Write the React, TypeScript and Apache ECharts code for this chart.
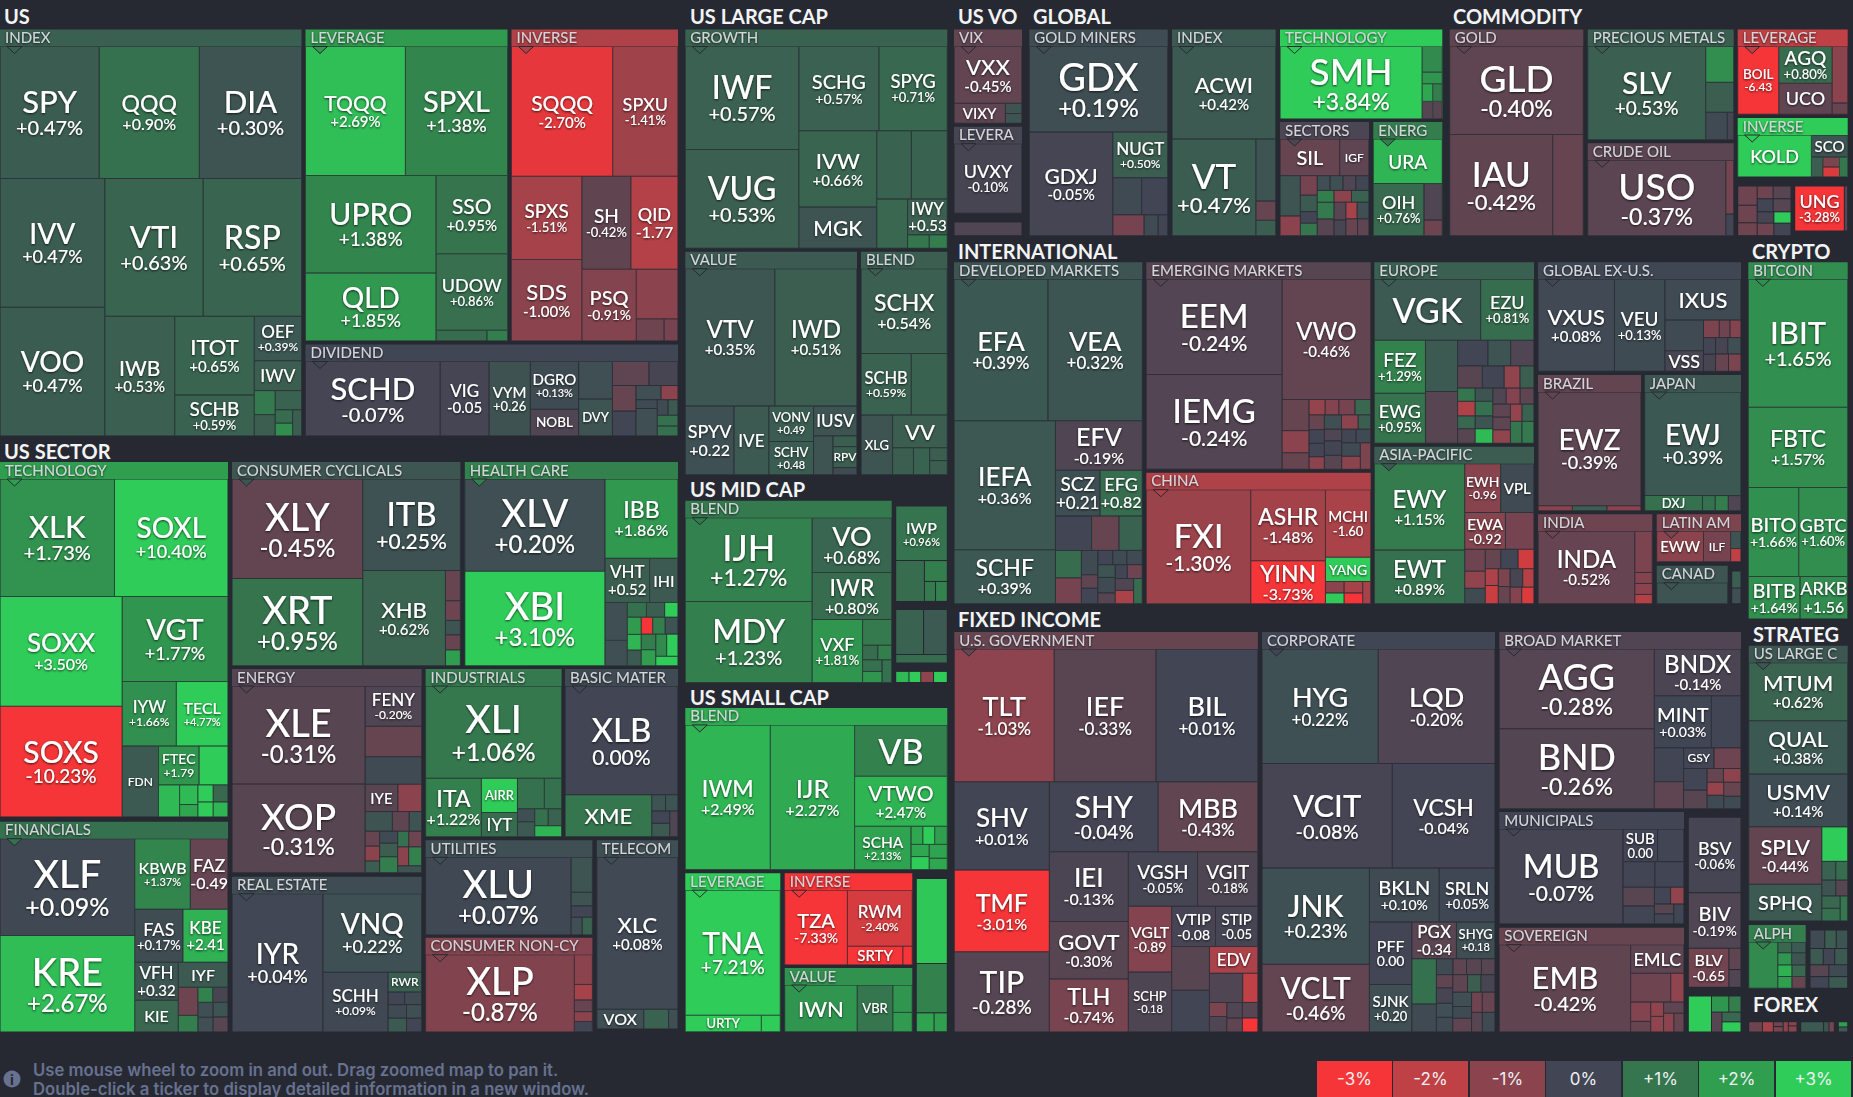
import React, { useEffect, useRef } from "react";
import * as echarts from "echarts";

type Cell = [string, number, string | number];
const BG = "#262931";
const FONT = "Lato";

// ----- weights are the cell areas; a string is a printed change, a number is a colour-only estimate
const usIndex: Cell[] = [["SPY",12870,"+0.47%"],["QQQ",13000,"+0.90%"],["DIA",13260,"+0.30%"],["IVV",13270,"+0.47%"],["VOO",13270,"+0.47%"],["VTI",13330,"+0.63%"],["RSP",13330,"+0.65%"],["IWB",8230,"+0.53%"],["ITOT",6160,"+0.65%"],["SCHB",3200,"+0.59%"],["OEF",2060,"+0.39%"],["IWV",1390,0.5],["",495,1.1],["",440,0.5],["",495,0.6],["",230,0.8],["",220,1.6],["",230,0.5]];
const usLeverage: Cell[] = [["TQQQ",12636,"+2.69%"],["SPXL",12915,"+1.38%"],["UPRO",12460,"+1.38%"],["QLD",8710,"+1.85%"],["SSO",5470,"+0.95%"],["UDOW",5370,"+0.86%"],["",535,0.8],["",216,1.2]];
const usInverse: Cell[] = [["SQQQ",12800,"-2.70%"],["SPXU",8255,"-1.41%"],["SPXS",5706,"-1.51%"],["SDS",5590,"-1.00%"],["SH",4440,"-0.42%"],["QID",4270,"-1.77"],["PSQ",3800,"-0.91%"],["",2016,-1],["",600,-0.6],["",300,-0.7]];
const usDividend: Cell[] = [["SCHD",9580,"-0.07%"],["VIG",3480,"-0.05"],["VYM",2930,"+0.26"],["DGRO",2208,"+0.13%"],["NOBL",1233,-0.2],["",1206,0.2],["DVY",1195,0.3],["",837,-0.4],["",666,-0.1],["",574,-0.5],["",560,0],["",340,0.2],["",230,-1],["",180,0.1],["",560,0.2],["",160,0.1],["",148,0.4],["",213,0.9],["",198,0.9]];
const secTech: Cell[] = [["XLK",13110,"+1.73%"],["SOXL",13000,"+10.40%"],["SOXX",13080,"+3.50%"],["SOXS",13200,"-10.23%"],["VGT",8780,"+1.77%"],["IYW",3400,"+1.66%"],["TECL",3245,"+4.77%"],["FDN",2520,0.4],["FTEC",1540,"+1.79"],["",1100,3],["",660,2.6],["",350,2.6],["",222,2.2],["",255,3],["",247,0.7],["",225,3],["",218,2.5]];
const secCyclical: Cell[] = [["XLY",12720,"-0.45%"],["XRT",11130,"+0.95%"],["ITB",8725,"+0.25%"],["XHB",7695,"+0.62%"],["",442,-0.5],["",288,-0.6],["",211,0.3],["",220,-0.5],["",231,2]];
const secHealth: Cell[] = [["XLV",12467,"+0.20%"],["XBI",12741,"+3.10%"],["IBB",5572,"+1.86%"],["VHT",1903,"+0.52"],["IHI",1210,0.4],["",819,0.2],["",546,0.2],["",272,0.9],["",259,0.5],["",190,3],["",231,1.9],["",209,2.5],["",209,0.4],["",187,-5],["",204,1.2],["",210,0.3],["",218,1.2],["",224,2],["",233,1.5],["",242,3],["",202,3]];
const secEnergy: Cell[] = [["XLE",12510,"-0.31%"],["XOP",11310,"-0.31%"],["FENY",2183,"-0.20%"],["",1650,-0.5],["",1482,0.1],["IYE",860,-0.3],["",622,-1],["",513,0.3],["",317,-0.4],["",234,0.3],["",207,-0.5],["",207,-1],["",163,0.5],["",207,0.1],["",235,0.5],["",276,1.2],["",166,0.9],["",193,-0.6],["",199,-1],["",234,1.3],["",160,0.3]];
const secIndustrial: Cell[] = [["XLI",12145,"+1.06%"],["ITA",3154,"+1.22%"],["AIRR",1194,3],["IYT",846,0.8],["",792,0.9],["",510,0.9],["",217,0.2],["",250,0.4],["",221,0.9],["",221,0.6],["",286,2.5]];
const secBasic: Cell[] = [["XLB",11978,"0.00%"],["XME",3549,1],["",218,0.3],["",197,0.3],["",216,0],["",234,0.4],["",208,-0.2]];
const secFinancial: Cell[] = [["XLF",12672,"+0.09%"],["KRE",12632,"+2.67%"],["KBWB",3808,"+1.37%"],["FAZ",2584,"-0.49"],["FAS",2483,"+0.17%"],["KBE",2324,"+2.41"],["VFH",1607,"+0.32"],["KIE",1341,0.7],["IYF",1207,0.4],["",534,-0.6],["",316,1.2],["",216,1.3],["",224,-0.1],["",220,0.2],["",218,0.2],["",212,0.3],["",218,-0.3]];
const secRealEstate: Cell[] = [["IYR",12300,"+0.04%"],["VNQ",7594,"+0.22%"],["SCHH",3800,"+0.09%"],["RWR",645,0.5],["",205,0],["",210,0.1],["",245,0.1],["",251,0.4],["",200,0.2],["",205,0]];
const secUtilities: Cell[] = [["XLU",11110,"+0.07%"],["",733,0.3],["",284,0.3],["",238,0],["",194,0.2],["",179,0.6]];
const secStaples: Cell[] = [["XLP",11330,"-0.87%"],["",530,-1],["",277,-1.5],["",208,-0.5],["",175,-1],["",188,0]];
const secTelecom: Cell[] = [["XLC",12180,"+0.08%"],["VOX",916,0.2],["",484,0.6],["",184,0.2]];
const largeGrowth: Cell[] = [["IWF",11360,"+0.57%"],["VUG",10913,"+0.53%"],["SCHG",6560,"+0.57%"],["SPYG",5600,"+0.71%"],["IVW",5775,"+0.66%"],["MGK",3120,0.3],["",2288,0.6],["",2381,0.6],["",1479,0.7],["IWY",1388,"+0.53"],["",284,1],["",237,1.2]];
const largeValue: Cell[] = [["VTV",11988,"+0.35%"],["IWD",11005,"+0.51%"],["SPYV",3257,"+0.22"],["IVE",2335,0.4],["VONV",1540,"+0.49"],["SCHV",1452,"+0.48"],["IUSV",1263,0.3],["",736,0.3],["",253,0.5],["RPV",490,0.5],["",168,0.1]];
const largeBlend: Cell[] = [["SCHX",7103,"+0.54%"],["SCHB",2997,"+0.59%"],["",2153,0.6],["XLG",1827,0.3],["VV",1734,0.5],["",546,0.5],["",424,0.6],["",220,0.5],["",242,0.5]];
const midBlend: Cell[] = [["IJH",10288,"+1.27%"],["MDY",9926,"+1.23%"],["VO",4216,"+0.68%"],["IWR",3614,"+0.80%"],["VXF",3078,"+1.81%"],["",727,1.1],["",214,0.8],["",196,1.2],["",220,0.9],["",208,1.8],["",213,0.9]];
const midOtherA: Cell[] = [["IWP",2714,"+0.96%"],["",1130,0.8],["",460,1.2],["",214,1.1],["",226,1.3]];
const midOtherB: Cell[] = [["",1209,0.6],["",1032,0.4],["",424,0.8]];
const midOtherC: Cell[] = [["",135,2.6],["",120,3],["",130,-1.1],["",140,3]];
const smallBlend: Cell[] = [["IWM",11870,"+2.49%"],["IJR",11770,"+2.27%"],["VB",4590,1.3],["VTWO",4488,"+2.47%"],["SCHA",2354,"+2.13%"],["",206,2.2],["",206,3],["",220,2],["",214,2.2],["",229,3],["",242,2.1],["",198,2.2]];
const smallLeverage: Cell[] = [["TNA",11590,"+7.21%"],["URTY",1230,4],["",307,3]];
const smallInverse: Cell[] = [["TZA",4444,"-7.33%"],["RWM",3438,"-2.40%"],["SRTY",988,-6],["",169,-4]];
const smallValue: Cell[] = [["IWN",3217,1.8],["VBR",1579,1],["",506,1.8],["",358,1.9]];
const smallOther: Cell[] = [["",2570,2.9],["",1494,1.3],["",328,2.1],["",245,2]];
const volVix: Cell[] = [["VXX",3740,"-0.45%"],["VIXY",1000,-0.4],["",165,0.3],["",158,0.3]];
const volLeverage: Cell[] = [["UVXY",4624,"-0.10%"]];
const volOther: Cell[] = [["",900,-0.2]];
const globalMiners: Cell[] = [["GDX",11525,"+0.19%"],["GDXJ",8460,"-0.05%"],["NUGT",2450,"+0.50%"],["",1042,0.1],["",944,0],["",636,-0.7],["",288,0.1],["",195,0]];
const globalIndex: Cell[] = [["ACWI",9437,"+0.42%"],["VT",7964,"+0.47%"],["",1206,0.3],["",374,-0.5],["",300,0.5]];
const globalTech: Cell[] = [["SMH",10058,"+3.84%"],["",505,1.5],["",228,1.8],["",182,2.2],["",165,1.2],["",182,-0.3],["",165,-0.3]];
const globalSectors: Cell[] = [["SIL",1988,-0.5],["IGF",977,-0.4],["",746,0.3],["",365,-1],["",299,-0.7],["",252,0.4],["",178,0],["",192,1],["",172,0.2],["",173,0.2],["",173,-0.2],["",177,0],["",180,1.2],["",255,1.1],["",255,-0.3],["",187,-1],["",187,0.6],["",192,-0.3],["",170,-0.1],["",170,-1.5],["",180,0.2],["",180,-0.5],["",176,-0.4]];
const globalEnergy: Cell[] = [["URA",2946,2.5],["OIH",2529,"+0.76%"],["",640,-0.2],["",275,-0.6]];
const commGold: Cell[] = [["GLD",11592,"-0.40%"],["IAU",10270,"-0.42%"],["",3051,-0.5]];
const commPrecious: Cell[] = [["SLV",10788,"+0.53%"],["",984,1.6],["",823,0.5],["",582,0.1],["",172,-0.1]];
const commCrude: Cell[] = [["USO",10275,"-0.37%"],["",416,-0.7],["",168,0]];
const commLeverage: Cell[] = [["BOIL",2672,"-6.43"],["AGQ",1881,"+0.80%"],["UCO",1597,-0.4],["",842,-1],["",168,-0.5]];
const commInverse: Cell[] = [["KOLD",2911,3.5],["SCO",754,0.3],["",214,0.5],["",156,-0.8],["",156,-2.5],["",154,1]];
const commOtherA: Cell[] = [["",335,-0.6],["",306,-0.6],["",225,-0.6],["",182,-0.6],["",204,-0.3],["",187,0],["",209,-0.3],["",168,-0.1],["",188,-0.6],["",173,3],["",193,0]];
const commOtherB: Cell[] = [["UNG",2192,"-3.28%"],["",150,-0.3]];
const intlDeveloped: Cell[] = [["EFA",12847,"+0.39%"],["VEA",12902,"+0.32%"],["IEFA",12642,"+0.36%"],["SCHF",5292,"+0.39%"],["EFV",4156,"-0.19%"],["SCZ",1965,"+0.21"],["EFG",1866,"+0.82"],["",1200,0],["",910,-0.5],["",777,0.6],["",688,0.8],["",648,-0.7],["",387,0.1],["",214,-0.4],["",246,0],["",206,0],["",194,0.1],["",214,0.1],["",214,0.3],["",260,0.1],["",181,-0.3],["",162,0],["",200,-0.6],["",212,-0.2],["",237,-1.6],["",212,0.8]];
const intlEmerging: Cell[] = [["EEM",12474,"-0.24%"],["IEMG",12434,"-0.24%"],["VWO",10276,"-0.46%"],["",810,-0.5],["",574,-1],["",430,-0.5],["",240,-1.2],["",204,-0.9],["",240,-0.7],["",234,0.7],["",219,-0.5],["",204,0],["",199,0],["",186,-1],["",237,0.2],["",229,-1],["",174,0.5],["",196,-0.2],["",242,0],["",234,-0.3],["",190,0],["",192,0.1],["",242,0.1],["",234,-1],["",266,-0.8]];
const intlChina: Cell[] = [["FXI",11514,"-1.30%"],["ASHR",5128,"-1.48%"],["YINN",3108,"-3.73%"],["MCHI",2950,"-1.60"],["YANG",1067,3],["",206,-1],["",193,3],["",206,-1.5],["",193,-3],["",172,-1.5]];
const intlEurope: Cell[] = [["VGK",6099,0.4],["EZU",3058,"+0.81%"],["FEZ",2560,"+1.29%"],["EWG",2415,"+0.95%"],["",1554,0.4],["",1566,-0.3],["",736,0],["",552,0.3],["",566,-0.2],["",519,-0.3],["",456,0],["",330,-1.1],["",294,0.5],["",220,1],["",242,-1.7],["",213,0.7],["",242,-0.3],["",220,0.3],["",242,0.9],["",213,0.3],["",242,2.6],["",203,-0.2],["",210,-0.9],["",210,-0.4],["",216,-0.4],["",213,-0.4],["",224,-1.1],["",187,-1.2],["",197,0.6],["",237,1],["",250,1.1]];
const intlAsia: Cell[] = [["EWY",7394,"+1.15%"],["EWT",4600,"+0.89%"],["EWH",1659,"-0.96"],["VPL",1540,0.1],["EWA",1423,"-0.92"],["",996,-0.7],["",426,-0.6],["",334,-1.1],["",300,0.1],["",286,-0.5],["",318,0],["",294,-2.3],["",206,-1.7],["",224,-2.2],["",200,-0.8],["",192,-0.5],["",220,-0.1],["",197,-1.8],["",183,-0.9],["",193,-2.5]];
const intlExUs: Cell[] = [["VXUS",6780,"+0.08%"],["VEU",4480,"+0.13%"],["IXUS",2987,0.1],["",1142,0.1],["VSS",765,-0.1],["",267,-0.8],["",182,-0.6],["",187,-0.9],["",193,0],["",199,-0.1],["",193,-0.1],["",209,0.2],["",216,-0.5],["",209,-0.8]];
const intlBrazil: Cell[] = [["EWZ",11608,"-0.39%"],["",168,-1],["",170,0.5],["",167,-1]];
const intlJapan: Cell[] = [["EWJ",9794,"+0.39%"],["DXJ",857,0.9],["",189,0.9],["",194,1.2],["",189,-0.2]];
const intlIndia: Cell[] = [["INDA",6783,"-0.52%"],["",697,-0.8],["",186,-0.9],["",186,-1],["",157,-1.8]];
const intlLatam: Cell[] = [["EWW",1332,-1],["ILF",773,-0.7],["",168,0.3],["",128,-2]];
const intlCanada: Cell[] = [["",1470,0.3]];
const intlOther: Cell[] = [["",163,0.5],["",150,0.2]];
const cryptoBitcoin: Cell[] = [["IBIT",12443,"+1.65%"],["FBTC",7815,"+1.57%"],["BITO",4389,"+1.66%"],["GBTC",4265,"+1.60%"],["BITB",2157,"+1.64%"],["ARKB",1988,"+1.56"]];
const fiGov: Cell[] = [["TLT",12840,"-1.03%"],["IEF",13100,"-0.33%"],["BIL",13100,"+0.01%"],["SHV",8136,"+0.01%"],["TMF",7521,"-3.01%"],["TIP",7391,"-0.28%"],["SHY",7385,"-0.04%"],["MBB",6773,"-0.43%"],["IEI",5336,"-0.13%"],["GOVT",4389,"-0.30%"],["TLH",4058,"-0.74%"],["VGSH",3652,"-0.05%"],["VGIT",3183,"-0.18%"],["VGLT",2759,"-0.89"],["SCHP",2521,"-0.18"],["VTIP",1716,"-0.08"],["STIP",1658,"-0.05"],["",1602,-0.3],["",1529,0],["EDV",1250,-1.6],["",941,-0.2],["",431,-2],["",236,-0.8],["",260,-0.2],["",236,-0.2],["",211,-0.4],["",233,-0.3],["",211,-3]];
const fiCorp: Cell[] = [["HYG",12890,"+0.22%"],["LQD",12957,"-0.20%"],["VCIT",13189,"-0.08%"],["VCSH",10404,"-0.04%"],["JNK",10015,"+0.23%"],["VCLT",7041,"-0.46%"],["BKLN",3640,"+0.10%"],["SRLN",2916,"+0.05%"],["PFF",2576,"0.00"],["SJNK",1954,"+0.20"],["PGX",1589,"-0.34"],["SHYG",1376,"+0.18"],["",1074,0.9],["",666,0.1],["",256,0.1],["",209,-0.4],["",231,-0.3],["",209,-0.3],["",209,-0.4],["",245,-0.1],["",222,0.2],["",234,0.1],["",250,-0.4],["",227,0.5],["",239,-0.1],["",261,0.2],["",214,0.1],["",250,-0.4],["",210,-0.6],["",249,-0.5],["",206,-0.3],["",241,0.1]];
const fiBroad: Cell[] = [["AGG",11902,"-0.28%"],["BND",11962,"-0.26%"],["BNDX",3903,"-0.14%"],["MINT",2868,"+0.03%"],["",1491,0],["",954,0],["",764,-0.4],["GSY",605,0],["",538,-0.6],["",490,0],["",421,-0.3],["",216,-0.5],["",233,-1],["",209,-1.2],["",216,0.1],["",233,-0.5],["",209,0.1]];
const fiMuni: Cell[] = [["MUB",11280,"-0.07%"],["SUB",1084,"0.00"],["",829,0],["",783,0],["",716,0],["",567,-0.3],["",545,0],["",260,0],["",217,-1.1],["",183,-0.3],["",188,0],["",198,0]];
const fiSovereign: Cell[] = [["EMB",11075,"-0.42%"],["EMLC",1473,-0.4],["",1115,-0.6],["",370,-1.1],["",374,-0.9],["",206,-0.5],["",178,-1.1],["",194,-1.1],["",220,-0.4],["",186,-1],["",185,-0.5]];
const fiOtherA: Cell[] = [["BSV",3863,"-0.06%"],["BIV",2830,"-0.19%"],["BLV",1544,"-0.65"],["",252,-0.4],["",208,-0.2]];
const fiOtherB: Cell[] = [["",767,3],["",255,1.8],["",180,1.2],["",191,-0.3],["",171,0.7],["",177,3]];
const stratLarge: Cell[] = [["MTUM",5544,"+0.62%"],["QUAL",5118,"+0.38%"],["USMV",5049,"+0.14%"],["SPLV",4050,"-0.44%"],["SPHQ",2600,0.4],["",864,3],["",252,0.6],["",216,0.8],["",214,0.3],["",184,-0.3],["",220,0.7],["",225,0.9],["",183,1]];
const stratAlpha: Cell[] = [["",1242,1.5],["",137,0.7],["",140,0.4],["",155,1.8],["",158,0.3],["",151,2.4],["",154,2],["",147,0.7],["",150,-0.5]];
const stratOther: Cell[] = [["",240,0.1],["",186,0.5],["",186,0.3],["",188,0.4],["",164,0],["",184,0.4],["",196,-0.3],["",193,0],["",196,0.1],["",193,0.4]];
const forexA: Cell[] = [["",120,-0.6],["",96,-1.5],["",41,-0.6],["",45,-0.8],["",45,-1],["",31,-1],["",45,-1]];
const forexB: Cell[] = [["",223,0.4],["",52,0.3],["",52,-0.7]];
const forexC: Cell[] = [["",50,2],["",48,0.4]];

const legendValues = [-3, -2, -1, 0, 1, 2, 3];
const legendLabels = ["-3%", "-2%", "-1%", "0%", "+1%", "+2%", "+3%"];
const footerLines = ["Use mouse wheel to zoom in and out. Drag zoomed map to pan it.", "Double-click a ticker to display detailed information in a new window."];

// ----- layout and style tables
const sectionTitles: [string, number, number][] = [["US",4,16],["US LARGE CAP",690,16],["US VO",958,16],["GLOBAL",1033,16],["COMMODITY",1453,16],["US SECTOR",4,451],["INTERNATIONAL",958,251],["CRYPTO",1752,251],["US MID CAP",690,489],["US SMALL CAP",690,697],["FIXED INCOME",958,619],["STRATEG",1753,634],["FOREX",1753,1004]];

type Group = { title: string; cells: Cell[]; box: [number, number, number, number]; tone?: number; fonts?: number[] };
const groups: Group[] = [
  { title:"INDEX", cells:usIndex, box:[0,29.5,301.5,436], tone:0.55, fonts:[31,23,31,28,28,31,32,21,22,19,17,17.5] },
  { title:"LEVERAGE", cells:usLeverage, box:[305.5,29.5,507.5,341], tone:1.9, fonts:[21,29,30,28,21,18] },
  { title:"INVERSE", cells:usInverse, box:[511.5,29.5,678,341], tone:-1.7, fonts:[21,18,19,22,19,18,20] },
  { title:"DIVIDEND", cells:usDividend, box:[305.5,344.5,678,436], tone:0.03, fonts:[31,17,15,15,13.5,13] },
  { title:"TECHNOLOGY", cells:secTech, box:[0,462,228,817], tone:2, fonts:[31,28,26,30,29,17,16,12,14] },
  { title:"CONSUMER CYCLICALS", cells:secCyclical, box:[232,462,460.4,665.7], tone:0.35, fonts:[38,38,33,22] },
  { title:"HEALTH CARE", cells:secHealth, box:[464.8,462,678,665.7], tone:1.3, fonts:[38,38,23,17,16] },
  { title:"ENERGY", cells:secEnergy, box:[232,669,421.6,872.7], tone:-0.25, fonts:[38,37,17,15] },
  { title:"INDUSTRIALS", cells:secIndustrial, box:[425.6,669,561.6,836.7], tone:1.1, fonts:[39,23,13,17] },
  { title:"BASIC MATER", cells:secBasic, box:[565,669,678,836.7], tone:0.1, fonts:[33,22] },
  { title:"FINANCIALS", cells:secFinancial, box:[0,821.7,228,1032], tone:0.9, fonts:[39,38,16,18,18,17,17,16,16] },
  { title:"REAL ESTATE", cells:secRealEstate, box:[232,876.7,421.6,1032], tone:0.15, fonts:[28,28,17,12] },
  { title:"UTILITIES", cells:secUtilities, box:[425.6,840.3,592.4,935], tone:0.2, fonts:[38] },
  { title:"CONSUMER NON-CY", cells:secStaples, box:[425.6,937.7,592.4,1032], tone:-0.9, fonts:[38] },
  { title:"TELECOM", cells:secTelecom, box:[596.8,840.3,678,1029], tone:0.2, fonts:[22,16] },
  { title:"GROWTH", cells:largeGrowth, box:[685.3,29.5,947.3,248.3], tone:0.6, fonts:[32,32,20,18.5,22,21,17] },
  { title:"VALUE", cells:largeValue, box:[685.3,251.7,857,474.7], tone:0.4, fonts:[24,24,18,17,13,13,17,12] },
  { title:"BLEND", cells:largeBlend, box:[861,251.7,947.3,474.7], tone:0.5, fonts:[23,16.5,13,22] },
  { title:"BLEND", cells:midBlend, box:[685.3,500.7,891.7,682.5], tone:1.1, fonts:[36,32,27,23,18] },
  { title:"", cells:midOtherA, box:[895.7,506,947.3,601.4], fonts:[16] },
  { title:"", cells:midOtherB, box:[895.7,609.6,947.3,663] },
  { title:"", cells:midOtherC, box:[895.7,671.4,947.3,682.5] },
  { title:"BLEND", cells:smallBlend, box:[685.3,707.9,947.3,869.6], tone:2.3, fonts:[23,25,34,21,15.5] },
  { title:"LEVERAGE", cells:smallLeverage, box:[685.3,873.2,780.3,1031.8], tone:3, fonts:[30,13] },
  { title:"INVERSE", cells:smallInverse, box:[784.7,873.2,912.3,965], tone:-3, fonts:[20,17,15] },
  { title:"VALUE", cells:smallValue, box:[784.7,968,912.3,1031.8], tone:1.7, fonts:[22,13] },
  { title:"", cells:smallOther, box:[916.3,878.6,947.3,1031.8] },
  { title:"VIX", cells:volVix, box:[954,29.5,1022,123.3], tone:-0.45, fonts:[22,15] },
  { title:"LEVERA", cells:volLeverage, box:[954,126.7,1022,213.3], tone:-0.1, fonts:[18] },
  { title:"", cells:volOther, box:[954,222,1022,235.7] },
  { title:"GOLD MINERS", cells:globalMiners, box:[1029.3,29.5,1167.7,235.7], tone:0.15, fonts:[38,21,17] },
  { title:"INDEX", cells:globalIndex, box:[1172,29.5,1275.7,235.7], tone:0.4, fonts:[22,35] },
  { title:"TECHNOLOGY", cells:globalTech, box:[1280,29.5,1442.3,119], tone:3.8, fonts:[37] },
  { title:"SECTORS", cells:globalSectors, box:[1280,122,1369,235.7], tone:-0.15, fonts:[20,12] },
  { title:"ENERG", cells:globalEnergy, box:[1373.3,122,1442.3,235.7], tone:1.2, fonts:[19,18] },
  { title:"GOLD", cells:commGold, box:[1449.7,29.5,1583.3,235.7], tone:-0.4, fonts:[37,35] },
  { title:"PRECIOUS METALS", cells:commPrecious, box:[1587.7,29.5,1733.7,139.7], tone:0.5, fonts:[30] },
  { title:"CRUDE OIL", cells:commCrude, box:[1587.7,143.3,1733.7,235.7], tone:-0.35, fonts:[37] },
  { title:"LEVERAGE", cells:commLeverage, box:[1737.7,29.5,1847.7,114.3], tone:-2, fonts:[13.5,19,18] },
  { title:"INVERSE", cells:commInverse, box:[1737.7,118,1847.7,177], tone:3, fonts:[18,15] },
  { title:"", cells:commOtherA, box:[1737.7,186,1791,235.7] },
  { title:"", cells:commOtherB, box:[1794.7,186,1847.7,231], fonts:[18] },
  { title:"DEVELOPED MARKETS", cells:intlDeveloped, box:[954,262.3,1142.3,603.7], tone:0.3, fonts:[27,27,26,23,25,19,18] },
  { title:"EMERGING MARKETS", cells:intlEmerging, box:[1146.3,262.3,1370.7,469.3], tone:-0.3, fonts:[33,33,24] },
  { title:"CHINA", cells:intlChina, box:[1146.3,472.7,1370.7,603.7], tone:-1.7, fonts:[33,23,23,15,14] },
  { title:"EUROPE", cells:intlEurope, box:[1374.3,262.3,1534,443.3], tone:0.55, fonts:[34,18,19,18] },
  { title:"ASIA-PACIFIC", cells:intlAsia, box:[1374.3,446.7,1534,603.7], tone:0.45, fonts:[24,24,14,15,16] },
  { title:"GLOBAL EX-U.S.", cells:intlExUs, box:[1538,262.3,1741,371.3], tone:0.05, fonts:[22,19,22,18] },
  { title:"BRAZIL", cells:intlBrazil, box:[1538,375,1641,510.7], tone:-0.45, fonts:[28] },
  { title:"JAPAN", cells:intlJapan, box:[1644.7,375,1741,510.7], tone:0.35, fonts:[28,13] },
  { title:"INDIA", cells:intlIndia, box:[1538,514.3,1652.3,603.7], tone:-0.6, fonts:[24] },
  { title:"LATIN AM", cells:intlLatam, box:[1656.7,514.3,1741,561.7], tone:-0.8, fonts:[15,12] },
  { title:"CANAD", cells:intlCanada, box:[1656.7,565.7,1727.7,603.7], tone:0.3 },
  { title:"", cells:intlOther, box:[1731.7,571,1741,603.7] },
  { title:"BITCOIN", cells:cryptoBitcoin, box:[1748.3,262.3,1847.7,619], tone:1.6, fonts:[31,23,20,18,20,18] },
  { title:"U.S. GOVERNMENT", cells:fiGov, box:[954.3,632,1257.9,1032], tone:-0.5, fonts:[27,27,27,26,25,30,30,27,26,22,23,19,19,16,13,16,15,17] },
  { title:"CORPORATE", cells:fiCorp, box:[1262,632,1495,1032], tone:0.03, fonts:[27,27,31,23,30,30,20,18,16,15,17,13] },
  { title:"BROAD MARKET", cells:fiBroad, box:[1499.3,632,1741,808.7], tone:-0.22, fonts:[36,36,24,20,12] },
  { title:"MUNICIPALS", cells:fiMuni, box:[1499.3,812,1684,924], tone:0, fonts:[33,15] },
  { title:"SOVEREIGN", cells:fiSovereign, box:[1499.3,927.7,1684,1032], tone:-0.5, fonts:[31,18] },
  { title:"", cells:fiOtherA, box:[1688.3,817.3,1741,987.3], fonts:[18,20,16] },
  { title:"", cells:fiOtherB, box:[1688.3,996,1741,1032] },
  { title:"US LARGE C", cells:stratLarge, box:[1748.7,645.7,1847.7,921], tone:0.35, fonts:[22,22,22,22,20] },
  { title:"ALPH", cells:stratAlpha, box:[1748.7,925,1805.7,988.3], tone:1.2 },
  { title:"", cells:stratOther, box:[1810,930,1847.7,988.3] },
  { title:"", cells:forexA, box:[1748.7,1021.7,1797,1032] },
  { title:"", cells:forexB, box:[1800.7,1021.7,1834.3,1032] },
  { title:"", cells:forexC, box:[1838.3,1021.7,1847.7,1032] },
];

const colorStops = ["#f63538", "#bf4045", "#8b444e", "#414554", "#35764e", "#2f9e4f", "#30cc5a"];
function toneColor(v: number): string {
  const t = Math.max(-3, Math.min(3, v)) + 3;
  const i = Math.min(5, Math.floor(t));
  const f = t - i;
  const a = colorStops[i], b = colorStops[i + 1];
  const ch = (s: string, p: number) => parseInt(s.slice(p, p + 2), 16);
  const m = (p: number) => Math.round(ch(a, p) + (ch(b, p) - ch(a, p)) * f).toString(16).padStart(2, "0");
  return "#" + m(1) + m(3) + m(5);
}

const HEADER_H = 17;
const shadow = { textShadowColor: "rgba(0,0,0,0.75)", textShadowBlur: 2, textShadowOffsetY: 1 };

function leaf(cell: Cell, fonts: number[] | undefined, counter: { i: number }, cellH?: number) {
  const [ticker, weight, change] = cell;
  const tone = typeof change === "string" ? parseFloat(change) : change;
  const node: any = { name: ticker, value: weight, itemStyle: { color: toneColor(tone), borderColor: BG, borderWidth: 0.5, gapWidth: 0 } };
  if (!ticker) { node.label = { show: false }; return node; }
  const size = (fonts && fonts[counter.i]) || 12;
  counter.i += 1;
  const hasSub = typeof change === "string";
  // short changes printed without "%" are nearly as large as their ticker in the reference
  const bare = hasSub && !(change as string).endsWith("%");
  const small = bare ? Math.round(size * 0.88) : Math.max(9, Math.round(size * (size < 24 ? 0.7 : 0.63)));
  const sub = hasSub ? "\n{c|" + change + "}" : "";
  let lhT = Math.round(size * 0.98);
  let lhC = Math.round(small * 1.1);
  // the inner box is the cell less its border; lines taller than it would be dropped by the library
  const inner = cellH ? cellH - 1.5 : 0;
  const full = lhT + (hasSub ? lhC : 0);
  const fit = inner && full > inner ? inner / full : 1;
  lhT *= fit;
  lhC *= fit;
  const contentH = lhT + (hasSub ? lhC : 0);
  const padTop = inner ? Math.max(0, (inner - contentH) / 2) : 0;
  node.label = {
    show: true, position: "inside", align: "center", verticalAlign: "middle", padding: [padTop, 0, 0, 0], overflow: "none",
    formatter: "{t|" + ticker + "}" + sub,
    rich: {
      t: { fontFamily: FONT, fontWeight: 500, fontSize: size, lineHeight: lhT, color: "#fff", align: "center", ...shadow },
      c: { fontFamily: FONT, fontWeight: 500, fontSize: small, lineHeight: lhC, color: "#fff", align: "center", ...shadow },
    },
  };
  return node;
}

function buildSeries(g: Group, idx: number, heights?: number[]) {
  const [x0, y0, x1, y1] = g.box;
  const counter = { i: 0 };
  const children = g.cells.map((c, j) => leaf(c, g.fonts, counter, heights ? heights[j] : undefined));
  const top: any = g.title
    ? {
        name: g.title,
        itemStyle: { borderWidth: 0, gapWidth: 0, borderColor: toneColor(g.tone ?? 0), color: toneColor(g.tone ?? 0) },
        upperLabel: { show: true, height: HEADER_H, color: "#d3d5da", fontFamily: FONT, fontSize: 15, padding: [0, 0, 0, 5], offset: [0, -1], align: "left", verticalAlign: "middle", overflow: "none", formatter: g.title, ...shadow },
        label: { show: false },
        children,
      }
    : { name: "block" + idx, itemStyle: { borderWidth: 0, gapWidth: 0, borderColor: BG }, upperLabel: { show: false }, label: { show: false }, children };
  return {
    type: "treemap", name: "g" + idx, left: x0, top: y0, width: x1 - x0, height: y1 - y0,
    roam: false, nodeClick: false, sort: false, visibleMin: 0, squareRatio: 1,
    breadcrumb: { show: false }, animation: false,
    levels: [{ itemStyle: { borderWidth: 0, gapWidth: 0, borderColor: BG } }],
    emphasis: { disabled: true },
    data: [top],
  };
}

function buildGraphic() {
  const els: any[] = [];
  sectionTitles.forEach(([text, x, y]) => els.push({ type: "text", x, y, silent: true, z: 50, style: { text, fill: "#f2f3f5", font: "bold 20px " + FONT, textVerticalAlign: "middle", shadowColor: "rgba(0,0,0,.6)", shadowBlur: 2 } }));
  groups.forEach((g) => {
    if (!g.title) return;
    const bx = g.box[0], by = g.box[1] + HEADER_H;
    els.push({ type: "polygon", silent: true, z: 50, shape: { points: [[bx + 7, by], [bx + 22, by], [bx + 14.5, by + 7]] }, style: { fill: toneColor(g.tone ?? 0), stroke: BG, lineWidth: 1 } });
  });
  const legendX = [1317, 1393, 1470, 1546, 1623, 1699, 1776];
  legendValues.forEach((v, i) => {
    els.push({ type: "rect", silent: true, shape: { x: legendX[i], y: 1061, width: 75, height: 36 }, style: { fill: toneColor(v) } });
    els.push({ type: "text", silent: true, x: legendX[i] + 37.5, y: 1079, style: { text: legendLabels[i], fill: "#eef0f2", font: "400 17px Inter", textAlign: "center", textVerticalAlign: "middle", shadowColor: "rgba(0,0,0,.5)", shadowBlur: 2 } });
  });
  footerLines.forEach((text, i) => els.push({ type: "text", silent: true, x: 33, y: 1070 + i * 18.5, style: { text, fill: "#677190", font: "600 16.7px Inter", textVerticalAlign: "middle" } }));
  els.push({ type: "circle", silent: true, shape: { cx: 12, cy: 1079, r: 8.5 }, style: { fill: "#677190" } });
  els.push({ type: "text", silent: true, x: 12, y: 1079, style: { text: "i", fill: BG, font: "700 14px Inter", textAlign: "center", textVerticalAlign: "middle" } });
  return els;
}

export default function App() {
  const ref = useRef<HTMLDivElement>(null);
  useEffect(() => {
    document.body.style.margin = "0";
    document.body.style.overflow = "hidden";
    const chart = echarts.init(ref.current!, undefined, { renderer: "svg" });
    const base = { animation: false, backgroundColor: BG, tooltip: { show: false }, graphic: { elements: buildGraphic() } };
    chart.setOption({ ...base, series: groups.map((g, i) => buildSeries(g, i)) });
    // second pass: the library has laid the cells out, so each label can be centred in its own cell's height
    const model: any = (chart as any).getModel();
    const heights = groups.map((g, i) => {
      const top = model.getSeriesByIndex(i).getData().tree.root.children[0];
      return top.children.map((n: any) => n.getLayout()?.height ?? 0);
    });
    chart.setOption({ ...base, series: groups.map((g, i) => buildSeries(g, i, heights[i])) }, true);
    return () => chart.dispose();
  }, []);
  return <div ref={ref} style={{ width: 1853, height: 1097 }} />;
}
